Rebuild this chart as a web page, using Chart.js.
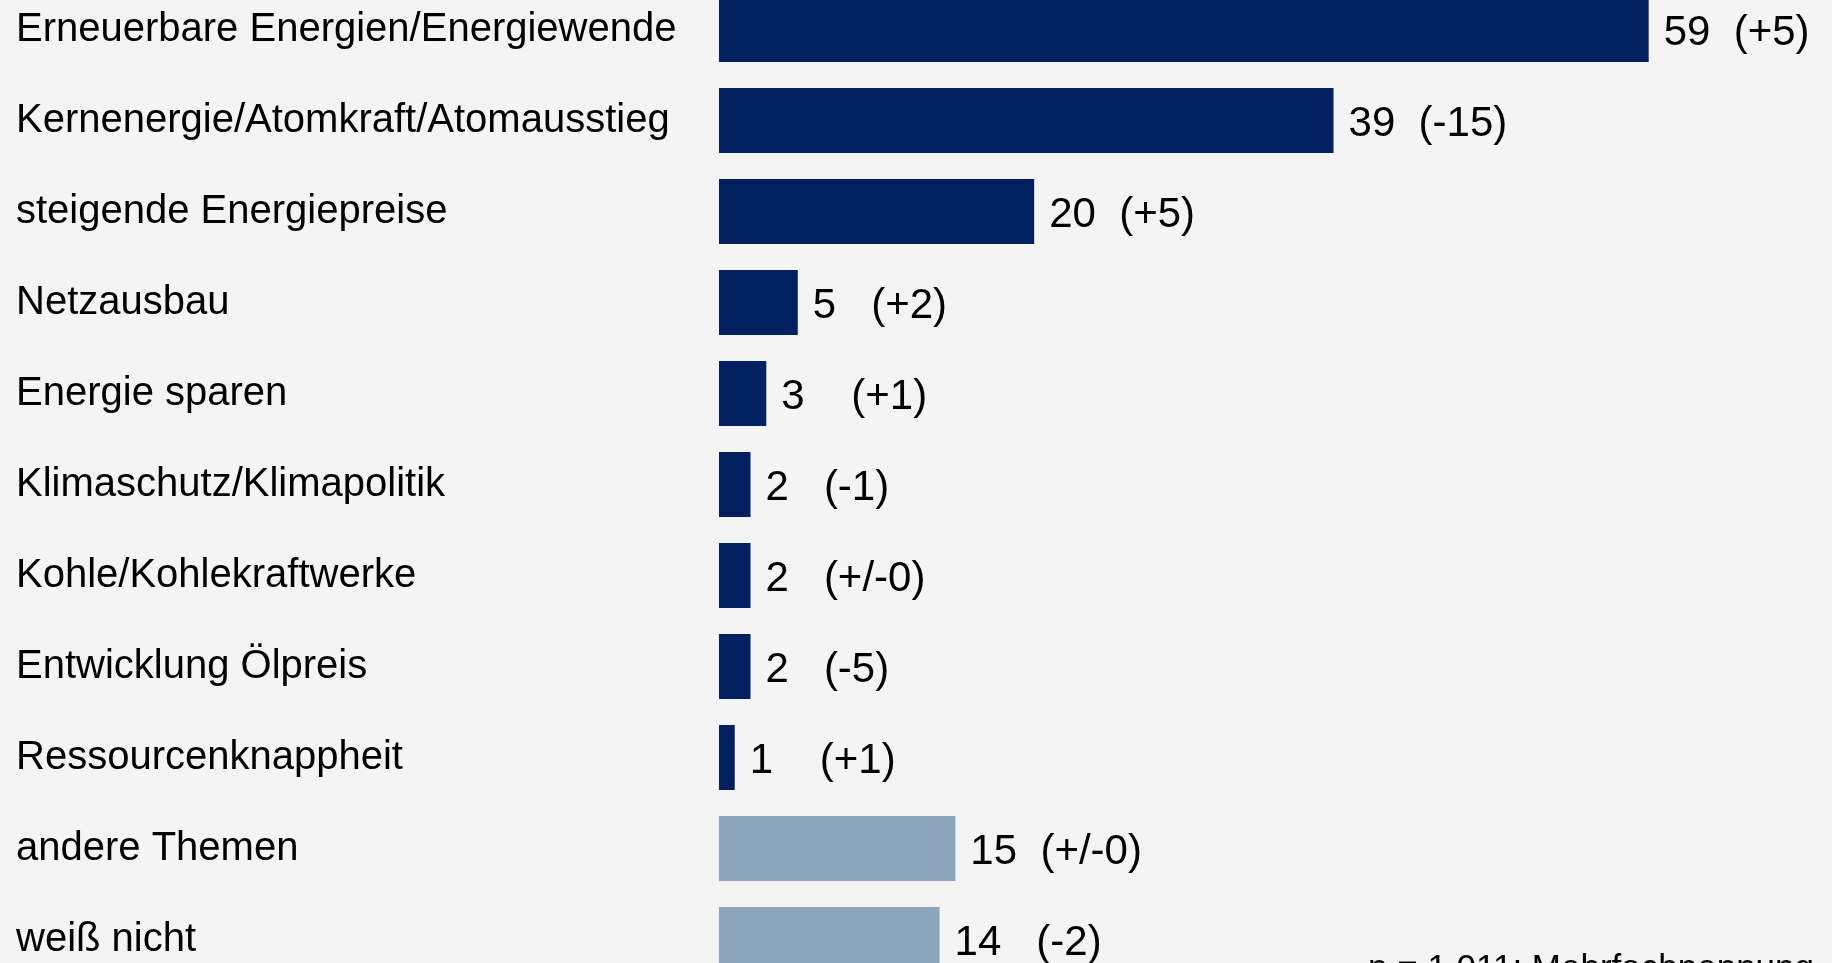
<!DOCTYPE html>
<html lang="de">
<head>
<meta charset="utf-8">
<title>Themen Energie</title>
<script src="https://cdn.jsdelivr.net/npm/chart.js@4"></script>
<style>
  html, body { margin: 0; padding: 0; background: #f4f4f4; overflow: hidden; width: 1832px; height: 963px; }
  #wrap { position: absolute; left: 0; top: -40px; width: 1832px; height: 1049px; }
</style>
</head>
<body>
<div id="wrap"><canvas id="chart"></canvas></div>
<script>
// Daten (Angaben in Prozent, Veränderung in Klammern)
const categories = [
  'Erneuerbare Energien/Energiewende',
  'Kernenergie/Atomkraft/Atomausstieg',
  'steigende Energiepreise',
  'Netzausbau',
  'Energie sparen',
  'Klimaschutz/Klimapolitik',
  'Kohle/Kohlekraftwerke',
  'Entwicklung Ölpreis',
  'Ressourcenknappheit',
  'andere Themen',
  'weiß nicht'
];
const values = [59, 39, 20, 5, 3, 2, 2, 2, 1, 15, 14];
// Wertbeschriftungen wie im Original (mit Leerzeichen)
const valueLabels = [
  '59  (+5)', '39  (-15)', '20  (+5)', '5   (+2)', '3    (+1)',
  '2   (-1)', '2   (+/-0)', '2   (-5)', '1    (+1)', '15  (+/-0)', '14   (-2)'
];
const residual = ['andere Themen', 'weiß nicht'];
const footnote = 'n = 1.011; Mehrfachnennung';

const DARK = '#002060';
const LIGHT = '#8da4bd';
const FONT = '"Liberation Sans", Arial, Helvetica, sans-serif';

// Werte rechts neben den Balken + Fußnote
const labelPlugin = {
  id: 'valueLabels',
  afterDatasetsDraw(chart) {
    const ctx = chart.ctx;
    const meta = chart.getDatasetMeta(0);
    ctx.save();
    ctx.fillStyle = '#000';
    ctx.font = '42px ' + FONT;
    ctx.textAlign = 'left';
    ctx.textBaseline = 'alphabetic';
    meta.data.forEach((bar, i) => {
      ctx.fillText(valueLabels[i], bar.x + 15, bar.y + 15);
    });
    ctx.font = '35px ' + FONT;
    ctx.textAlign = 'right';
    ctx.fillText(footnote, 1814, 1019);
    ctx.restore();
  }
};

new Chart(document.getElementById('chart'), {
  type: 'bar',
  data: {
    labels: categories,
    datasets: [{
      data: values,
      backgroundColor: categories.map(c => residual.includes(c) ? LIGHT : DARK),
      borderWidth: 0,
      categoryPercentage: 1,
      barPercentage: 0.714
    }]
  },
  options: {
    indexAxis: 'y',
    responsive: true,
    maintainAspectRatio: false,
    animation: false,
    layout: { padding: { left: 16, right: 10, top: 0, bottom: 0 } },
    plugins: {
      legend: { display: false },
      tooltip: { enabled: false }
    },
    scales: {
      x: {
        display: false,
        min: 0,
        max: 70
      },
      y: {
        grid: { display: false },
        border: { display: false },
        ticks: {
          autoSkip: false,
          crossAlign: 'far',
          color: '#000',
          padding: 0,
          font: { family: FONT, size: 40 }
        },
        afterFit(scale) {
          scale.width = 703;
        }
      }
    }
  },
  plugins: [labelPlugin]
});
</script>
</body>
</html>
